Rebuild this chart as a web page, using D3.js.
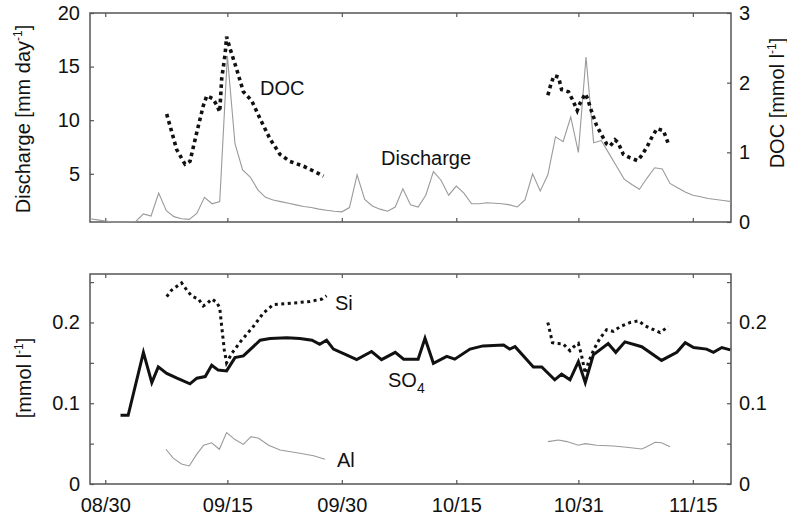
<!DOCTYPE html>
<html><head><meta charset="utf-8">
<script src="https://cdn.jsdelivr.net/npm/d3@7"></script>
<style>
body{margin:0;background:#fff}
svg text{font-family:"Liberation Sans",Arial,Helvetica,sans-serif;fill:#111}
</style>
</head><body>
<svg id="c" width="787" height="519"></svg>
<script>
// x values are days after 08/30
const xTickDays = [0, 16, 31, 46, 62, 77];
const xTickLabels = ["08/30", "09/15", "09/30", "10/15", "10/31", "11/15"];

// Discharge [mm day-1], daily
const dischargeDays = [-2,-1,0,1,2,3,4,5,6,7,8,9,10,11,12,13,14,15,16,17,18,19,20,21,22,23,24,25,26,27,28,29,30,31,32,33,34,35,36,37,38,39,40,41,42,43,44,45,46,47,48,49,50,51,52,53,54,55,56,57,58,59,60,61,62,63,64,65,66,67,68,69,70,71,72,73,74,75,76,77,78,79,80,81,82];
const dischargeValues = [0.8,0.7,0.6,0.5,0.5,0.5,0.55,1.25,1.06,3.2,1.55,1.0,0.8,0.75,1.3,2.8,2.2,2.4,16.0,7.8,5.35,4.7,3.5,2.8,2.55,2.4,2.25,2.1,1.95,1.85,1.7,1.6,1.5,1.45,1.85,4.9,2.6,2.0,1.7,1.5,1.9,3.6,2.1,1.9,3.0,5.2,4.4,3.0,3.85,3.2,2.2,2.2,2.3,2.25,2.2,2.1,1.9,2.55,5.0,3.4,4.9,8.45,8.0,10.3,7.0,15.9,7.9,8.1,6.9,5.7,4.5,4.0,3.55,4.6,5.56,5.44,4.1,3.7,3.3,3.0,2.85,2.7,2.6,2.5,2.4];

// DOC [mmol l-1] (null = gap between sampling campaigns)
const docDays = [8.05,9.36,10.45,11.1,12.0,12.85,13.3,14.1,14.6,15.0,15.26,15.7,15.9,16.35,17.2,18.1,19.2,20.3,21.6,22.9,24.2,26.0,28.6,
  40,
  58.0,58.4,58.8,59.4,59.8,60.7,61.3,61.85,62.2,62.9,63.2,63.75,64.4,65.1,65.7,66.15,66.8,67.2,67.9,68.8,69.75,70.2,70.96,71.6,72.3,73.15,73.8];
const docValues = [1.55,1.04,0.83,0.87,1.29,1.67,1.81,1.77,1.68,1.58,2.06,2.4,2.66,2.49,2.2,1.87,1.74,1.48,1.19,0.97,0.87,0.80,0.66,
  null,
  1.82,1.98,2.10,2.08,1.90,1.87,1.74,1.60,1.70,1.84,1.77,1.58,1.38,1.24,1.12,1.09,1.18,1.14,0.97,0.92,0.88,0.94,1.07,1.21,1.34,1.31,1.12];

// SO4 [mmol l-1]
const so4Days = [2.0,3.0,5.0,6.1,6.95,8.05,9.4,11.1,12.0,13.1,13.95,14.8,15.9,17.0,18.1,20.3,21.6,23.8,25.5,27.1,28.1,29.0,29.9,31.6,32.95,34.9,36.2,38.0,39.1,41.0,41.9,43.0,44.75,45.8,47.8,49.5,52.2,53.0,53.7,56.1,57.2,58.9,59.8,60.9,62.0,62.9,63.96,65.9,66.9,68.1,70.3,72.9,74.9,76.0,77.1,78.8,79.7,80.8,81.9];
const so4Values = [0.085,0.085,0.163,0.1255,0.145,0.137,0.131,0.124,0.131,0.133,0.147,0.141,0.140,0.1565,0.1586,0.178,0.180,0.181,0.180,0.178,0.173,0.178,0.167,0.160,0.154,0.164,0.154,0.163,0.1545,0.1545,0.1805,0.1495,0.158,0.1545,0.167,0.171,0.172,0.167,0.170,0.145,0.145,0.129,0.136,0.129,0.1516,0.1255,0.160,0.174,0.163,0.176,0.170,0.153,0.163,0.175,0.169,0.167,0.163,0.169,0.166];

// Si [mmol l-1]
const siDays = [8.05,8.7,10.0,10.7,11.3,12.2,12.85,13.3,13.95,14.6,15.0,15.26,15.6,15.9,16.6,17.7,19.4,20.7,22.0,24.6,26.8,28.4,29.0,
  40,
  58.0,58.6,59.1,60.0,60.9,61.4,62.0,62.4,62.9,63.3,64.0,64.8,65.7,66.6,67.5,68.8,69.9,70.7,71.4,72.7,73.8];
const siValues = [0.232,0.240,0.249,0.240,0.233,0.229,0.2205,0.223,0.229,0.225,0.218,0.195,0.166,0.150,0.162,0.176,0.195,0.2115,0.222,0.224,0.226,0.229,0.233,
  null,
  0.200,0.175,0.174,0.1735,0.165,0.170,0.174,0.160,0.137,0.150,0.166,0.180,0.191,0.189,0.195,0.200,0.202,0.196,0.193,0.1875,0.195];

// Al [mmol l-1]
const alDays = [7.96,8.9,10.0,11.0,12.0,12.9,13.95,14.95,15.9,17.0,18.1,19.1,20.1,21.4,22.9,25.5,27.3,28.8,
  40,
  58.0,59.4,60.5,62.0,62.9,64.4,66.6,68.3,70.3,70.96,72.05,72.9,74.0];
const alValues = [0.043,0.032,0.0248,0.0223,0.037,0.048,0.051,0.043,0.0636,0.055,0.049,0.0586,0.0566,0.048,0.042,0.038,0.035,0.0306,
  null,
  0.0525,0.0545,0.0525,0.048,0.050,0.048,0.047,0.0455,0.0434,0.046,0.0517,0.051,0.046];

const leftQTicks = [5, 10, 15, 20];
const rightDocTicks = [0, 1, 2, 3];
const concTicks = [0, 0.05, 0.1, 0.15, 0.2, 0.25];
const concLabels = {0: "0", 0.1: "0.1", 0.2: "0.2"};

const svg = d3.select("#c");
const L = 90, R = 731;
const T1 = 13, B1 = 222, T2 = 274, B2 = 484;

const x = d3.scaleLinear().domain([-2, 82]).range([L, R]);
const yQ = d3.scaleLinear().domain([0.5, 20]).range([B1, T1]);
const yDoc = d3.scaleLinear().domain([0, 3]).range([B1, T1]);
const yC = d3.scaleLinear().domain([0, 0.26]).range([B2, T2]);

const zip = (a, b) => a.map((d, i) => [d, b[i]]);

function styleAxis(g) {
  g.select(".domain").remove();
  g.selectAll(".tick line").attr("stroke", "#555").attr("stroke-width", 1.2);
  g.selectAll(".tick text").attr("font-size", 20).attr("fill", "#111")
    .style("font-family", '"Liberation Sans",Arial,sans-serif');
}

// Top panel axes
svg.append("g").attr("transform", `translate(${L},0)`)
  .call(d3.axisLeft(yQ).tickValues(leftQTicks).tickSize(-4).tickPadding(10).tickFormat(d3.format("d"))).call(styleAxis);
svg.append("g").attr("transform", `translate(${R},0)`)
  .call(d3.axisRight(yDoc).tickValues(rightDocTicks).tickSize(-4).tickPadding(8).tickFormat(d3.format("d"))).call(styleAxis);
svg.append("g").attr("transform", `translate(0,${B1})`)
  .call(d3.axisBottom(x).tickValues(xTickDays).tickSize(-4).tickFormat("")).call(styleAxis);
svg.append("g").attr("transform", `translate(0,${T1})`)
  .call(d3.axisTop(x).tickValues(xTickDays).tickSize(-4).tickFormat("")).call(styleAxis);

// Bottom panel axes
const cFmt = d => concLabels[d] !== undefined ? concLabels[d] : "";
svg.append("g").attr("transform", `translate(${L},0)`)
  .call(d3.axisLeft(yC).tickValues(concTicks).tickSize(-4).tickPadding(10).tickFormat(cFmt)).call(styleAxis);
svg.append("g").attr("transform", `translate(${R},0)`)
  .call(d3.axisRight(yC).tickValues(concTicks).tickSize(-4).tickPadding(8).tickFormat(cFmt)).call(styleAxis);
svg.append("g").attr("transform", `translate(0,${B2})`)
  .call(d3.axisBottom(x).tickValues(xTickDays).tickSize(-4).tickPadding(14).tickFormat((d, i) => xTickLabels[i])).call(styleAxis);
svg.append("g").attr("transform", `translate(0,${T2})`)
  .call(d3.axisTop(x).tickValues(xTickDays).tickSize(-4).tickFormat("")).call(styleAxis);

// Frames
[[T1, B1], [T2, B2]].forEach(([t, b]) => {
  svg.append("rect").attr("x", L).attr("y", t).attr("width", R - L).attr("height", b - t)
    .attr("fill", "none").attr("stroke", "#555").attr("stroke-width", 1.5);
});

// Lines
const lineQ = d3.line().x(d => x(d[0])).y(d => yQ(d[1]));
const lineDoc = d3.line().defined(d => d[1] != null).x(d => x(d[0])).y(d => yDoc(d[1]));
const lineC = d3.line().defined(d => d[1] != null).x(d => x(d[0])).y(d => yC(d[1]));

svg.append("path").datum(zip(dischargeDays, dischargeValues)).attr("d", lineQ)
  .attr("fill", "none").attr("stroke", "#9a9a9a").attr("stroke-width", 1.1);
svg.append("path").datum(zip(docDays, docValues)).attr("d", lineDoc)
  .attr("fill", "none").attr("stroke", "#111").attr("stroke-width", 3.6).attr("stroke-dasharray", "3.6 3.6");

svg.append("path").datum(zip(alDays, alValues)).attr("d", lineC)
  .attr("fill", "none").attr("stroke", "#9a9a9a").attr("stroke-width", 1.1);
svg.append("path").datum(zip(so4Days, so4Values)).attr("d", lineC)
  .attr("fill", "none").attr("stroke", "#111").attr("stroke-width", 3).attr("stroke-linejoin", "miter");
svg.append("path").datum(zip(siDays, siValues)).attr("d", lineC)
  .attr("fill", "none").attr("stroke", "#111").attr("stroke-width", 3).attr("stroke-dasharray", "3 3.5");

// In-plot labels
const fs = 20;
svg.append("text").attr("x", 260).attr("y", 95).attr("font-size", fs).text("DOC");
svg.append("text").attr("x", 381).attr("y", 165).attr("font-size", fs).text("Discharge");
svg.append("text").attr("x", 335).attr("y", 310).attr("font-size", fs).text("Si");
const so = svg.append("text").attr("x", 388).attr("y", 387).attr("font-size", fs);
so.append("tspan").text("SO");
so.append("tspan").attr("font-size", 14).attr("dy", 6).text("4");
svg.append("text").attr("x", 337).attr("y", 467).attr("font-size", fs).text("Al");

// Axis titles
function vTitle(xp, yp, parts) {
  const t = svg.append("text").attr("transform", `translate(${xp},${yp}) rotate(-90)`)
    .attr("text-anchor", "middle").attr("font-size", fs);
  parts.forEach(p => {
    const s = t.append("tspan").text(p.t);
    if (p.sup) s.attr("font-size", 12).attr("dy", -8);
    if (p.back) s.attr("dy", 8);
  });
}
vTitle(30, 119, [{t: "Discharge [mm day"}, {t: "-1", sup: true}, {t: "]", back: true}]);
vTitle(784, 103, [{t: "DOC [mmol l"}, {t: "-1", sup: true}, {t: "]", back: true}]);
vTitle(31, 378, [{t: "[mmol l"}, {t: "-1", sup: true}, {t: "]", back: true}]);
</script>
</body></html>
